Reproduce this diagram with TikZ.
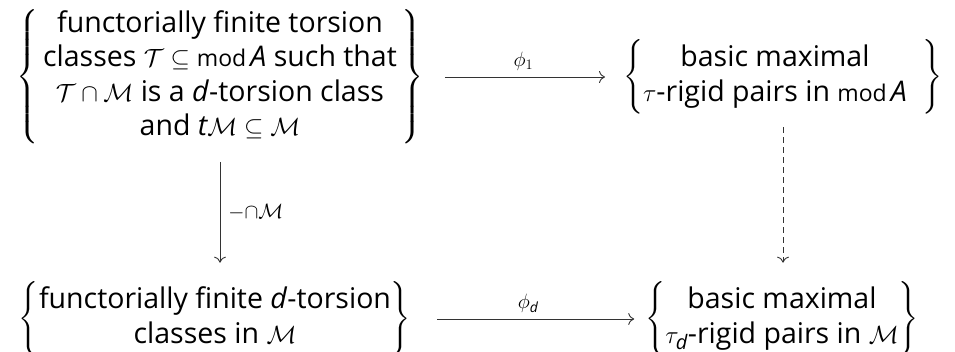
\documentclass[tikz,border=0pt]{standalone}
\usepackage{amsmath}
\usepackage{fontspec}
\setmainfont{Open Sans}
\usetikzlibrary{arrows.meta}
\newcommand{\mymod}{\text{\fontsize{23pt}{23pt}\selectfont mod}}
\newcommand{\iA}{\text{\itshape A}}
\newcommand{\id}{\text{\itshape d}}
\newcommand{\itt}{\text{\itshape t}}
\tikzset{
  setnode/.style={inner sep=0pt, outer sep=0pt, font=\fontsize{28.5pt}{34.5pt}\selectfont},
  cdarrow/.style={draw=black!80, line width=0.9pt, -{Computer Modern Rightarrow[length=6pt,width=12pt]}},
  cdlabel/.style={font=\fontsize{20pt}{20pt}\selectfont, inner sep=0pt}
}
\begin{document}
\begin{tikzpicture}[x=1pt,y=-1pt]
\useasboundingbox (0,0) rectangle (955,352);
\node[setnode] (TL) at (220,77) {$\left\{\begin{tabular}{@{\,}c@{\,}}
functorially finite torsion\\
classes $\mathcal{T}\subseteq\mymod\,\iA$ such that\\
$\mathcal{T}\cap\mathcal{M}$ is a \textit{d}-torsion class\\
and $\itt\mathcal{M}\subseteq\mathcal{M}$
\end{tabular}\right\}$};
\node[setnode] (TR) at (783,77) {$\left\{\begin{tabular}{@{}c@{\hspace{16pt}}}
basic maximal\\
$\tau$-rigid pairs in $\mymod\,\iA$
\end{tabular}\right\}$};
\node[setnode] (BL) at (215,319) {$\left\{\begin{tabular}{@{}c@{}}
functorially finite \textit{d}-torsion\\
classes in $\mathcal{M}$
\end{tabular}\right\}$};
\node[setnode] (BR) at (782,319) {$\left\{\begin{tabular}{@{}c@{}}
basic maximal\\
$\tau_{\id}$-rigid pairs in $\mathcal{M}$
\end{tabular}\right\}$};
\draw[cdarrow, shorten <=21pt, shorten >=18pt] (TL.east) -- node[cdlabel, above=6pt] (l1) {$\phi_1$} (TL.east -| TR.west);
\draw[cdarrow, shorten <=26pt, shorten >=11pt] (BL.east) -- node[cdlabel, above=6pt] (l2) {$\phi_{\id}$} (BL.east -| BR.west);
\draw[cdarrow] ([yshift=-16pt]TL.south) -- node[cdlabel, right=8pt] (l3) {$-{\cap}\mathcal{M}$} ([yshift=19pt]TL.south |- BL.north);
\draw[cdarrow, dash pattern=on 6pt off 4pt] ([yshift=-13pt]TR.south) -- ([yshift=19pt]TR.south |- BR.north);
\end{tikzpicture}
\end{document}
